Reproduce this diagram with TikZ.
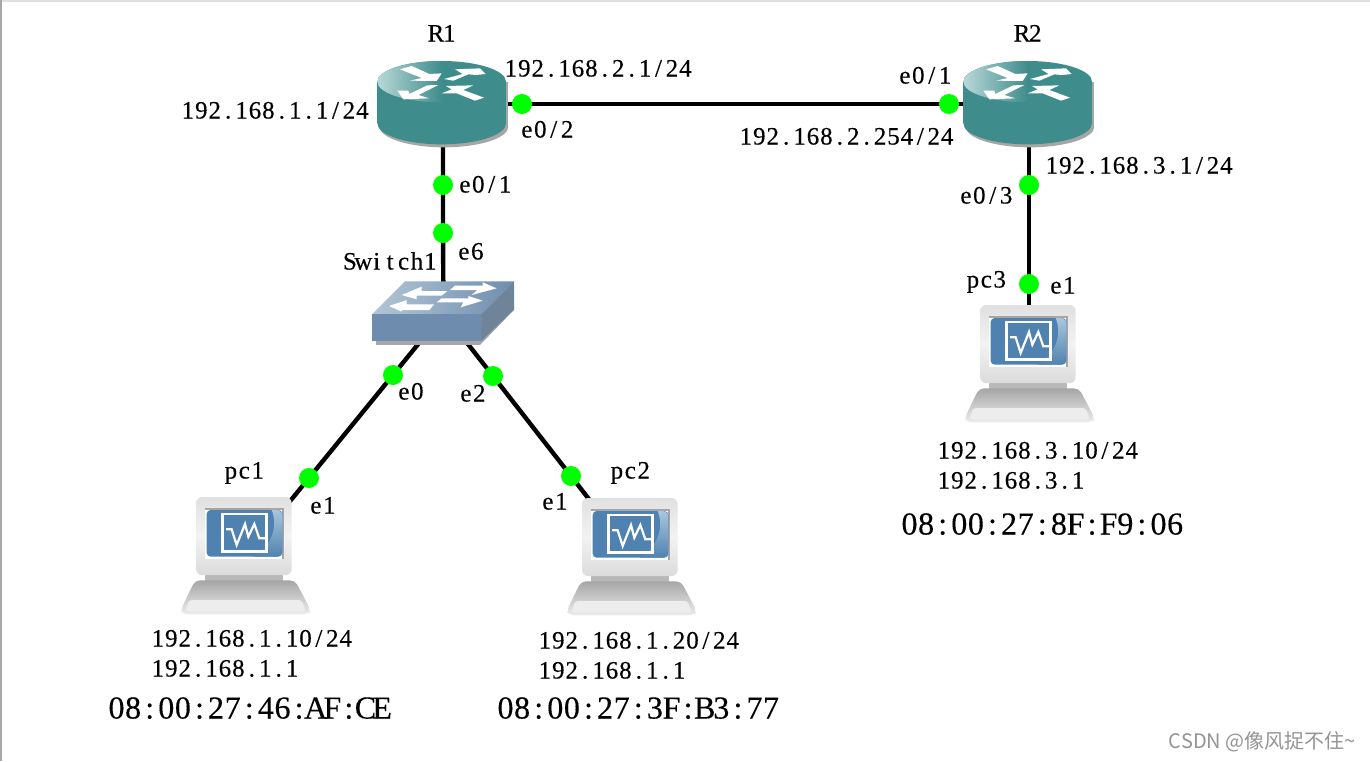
\documentclass[tikz,border=0pt]{standalone}
\usepackage{fontspec}
\setmainfont[FakeBold=0.25]{Liberation Serif}
\setsansfont{Liberation Sans}
\newfontfamily\cjkfont{Noto Sans CJK SC}
\usetikzlibrary{calc}
\pgfdeclarelayer{back}
\pgfsetlayers{back,main}
\makeatletter
\newcommand\fixedtxt[2]{\@tfor\mc:=#2\do{\hbox to #1{\hss\mc\hss}}}
\makeatother
\newcommand\mt[1]{\fixedtxt{13.42pt}{#1}}
\newcommand\bt[1]{\fixedtxt{16.6pt}{#1}}
\definecolor{rteal}{HTML}{3F8C8C}
\definecolor{rlight}{HTML}{B9D8D8}
\definecolor{swfront}{HTML}{6E8DAE}
\definecolor{swlight}{HTML}{B4C6D6}
\definecolor{swside}{HTML}{6F8499}
\definecolor{shad}{HTML}{A6A6A6}
\definecolor{scrblue}{HTML}{4F82B0}
\definecolor{scrlight}{HTML}{A9C6DE}
\tikzset{
  link/.style={draw=black,line width=4.4pt},
  portdot/.style={circle,fill=green,inner sep=0,minimum size=20pt},
  lab/.style={anchor=base west,inner sep=0,yshift=-8.5pt,font=\fontsize{25}{25}\selectfont},
  biglab/.style={anchor=base west,inner sep=0,yshift=-10.5pt,font=\fontsize{32}{32}\selectfont},
  whitearrow/.style={fill=white,draw=none},
  routericon/.pic={
    \begin{scope}[scale=1/3]
      \fill[shad] (120,215) rectangle (505,350);
      \fill[shad] (312,350) ellipse [x radius=193,y radius=62];
      \fill[rteal] (305,340) ellipse [x radius=193,y radius=63];
      \fill[rteal] (112,215) rectangle (498,340);
      \fill[rteal] (305,215) ellipse [x radius=193,y radius=62];
      \begin{scope}
        \clip (305,215) ellipse [x radius=193,y radius=62];
        \shade[left color=rlight,right color=rteal] (112,150) rectangle (305,280);
      \end{scope}
      \fill[whitearrow] (180,178)--(215,168)--(268,192)--(305,190)--(290,213)--(210,212)--(245,204)--cycle;
      \fill[whitearrow] (312,207)--(368,192)--(345,178)--(420,175)--(437,192)--(408,195)--(385,193)--(340,212)--cycle;
      \fill[whitearrow] (295,225)--(262,226)--(208,252)--(205,242)--(172,242)--(190,268)--(268,265)--(235,255)--cycle;
      \fill[whitearrow] (305,250)--(335,238)--(318,228)--(400,226)--(370,240)--(432,263)--(405,272)--(350,250)--cycle;
    \end{scope}
  },
  switchicon/.pic={
    \begin{scope}[scale=1/3]
      \fill[shad] (108,302) rectangle (420,315);
      \fill[shad] (420,315)--(522,210)--(522,200)--(420,300)--cycle;
      \shade[left color=swlight,right color=swfront] (195,124)--(522,124)--(425,222)--(97,222)--cycle;
      \fill[swfront] (97,222) rectangle (425,302);
      \fill[swside] (425,222)--(522,124)--(522,208)--(425,302)--cycle;
      \fill[whitearrow] (185,165)--(245,140)--(245,153)--(322,153)--(305,167)--(230,167)--(230,178)--cycle;
      \fill[whitearrow] (470,145)--(428,127)--(428,137)--(345,137)--(330,150)--(412,150)--(395,165)--cycle;
      \fill[whitearrow] (147,198)--(200,180)--(200,193)--(282,193)--(268,210)--(185,210)--(185,215)--cycle;
      \fill[whitearrow] (428,182)--(385,168)--(385,175)--(305,175)--(290,187)--(370,187)--(362,202)--cycle;
    \end{scope}
  },
  pcicon/.pic={
    \begin{scope}[scale=1/3]
      \fill[black!28] (195,370) rectangle (428,395);
      \shade[top color=black!35,bottom color=black!7,rounded corners=5pt]
        (165,391)--(465,391)--(512,480)--(505,493)--(128,493)--(122,480)--cycle;
      \fill[black!7,rounded corners=3pt] (147,450)--(485,450)--(497,484)--(136,484)--cycle;
      \shade[top color=black!12,bottom color=black!14,middle color=black!5,rounded corners=6pt]
        (168,141) rectangle (455,375);
      \fill[black!35] (195,175) rectangle (432,327);
      \fill[white] (195,180) rectangle (427,327);
      \fill[scrblue,rounded corners=4pt] (200,180) rectangle (427,320);
      \begin{scope}
        \clip[rounded corners=6pt] (200,180) rectangle (427,320);
        \shade[left color=scrblue,right color=scrlight,shading angle=0,bottom color=scrblue,top color=scrlight]
          (395,180) .. controls (415,230) and (395,290) .. (340,320) -- (427,320) -- (427,180) -- cycle;
      \end{scope}
      \draw[white,line width=2.4pt] (248,192) rectangle (380,305);
      \draw[white,line width=2.2pt,line join=miter]
        (258,238)--(275,238)--(290,285)--(315,222)--(325,260)--(343,222)--(358,265)--(380,265);
    \end{scope}
  }
}
\begin{document}
\begin{tikzpicture}[x=1pt,y=-1pt]
\useasboundingbox (0,0) rectangle (1370,761);
\begin{pgfonlayer}{back}
  \fill[white] (0,0) rectangle (1370,761);
  \fill[black!12] (0,0) rectangle (1370,1.5);
  \fill[black!35] (0,0) rectangle (2,761);
\end{pgfonlayer}

\coordinate (R1) at (443,104);
\coordinate (R2) at (1029,104);
\coordinate (SW) at (443.5,313);
\coordinate (PC1) at (246,555);
\coordinate (PC2) at (633,556);
\coordinate (PC3) at (1029,363);

\pic at (340,10) {routericon};
\pic at (926,10) {routericon};
\pic at (340,240) {switchicon};
\pic at (140,450) {pcicon};
\pic at (526,451) {pcicon};
\pic at (924,258) {pcicon};

\node[portdot] (p1) at (522,104) {};
\node[portdot] (p2) at (949,104) {};
\node[portdot] (p3) at (443,185) {};
\node[portdot] (p4) at (443,233) {};
\node[portdot] (p5) at (393,375) {};
\node[portdot] (p6) at (309,478) {};
\node[portdot] (p7) at (493,376) {};
\node[portdot] (p8) at (571,476) {};
\node[portdot] (p9) at (1029,185) {};
\node[portdot] (p10) at (1029,284) {};

\begin{pgfonlayer}{back}
  \draw[link] (R1.center)--(p1.center)--(p2.center)--(R2.center);
  \draw[link] (R1.center)--(p3.center)--(p4.center)--(SW.center);
  \draw[link] (SW.center)--(p5.center)--(p6.center)--(PC1.center);
  \draw[link] (SW.center)--(p7.center)--(p8.center)--(PC2.center);
  \draw[link] (R2.center)--(p9.center)--(p10.center)--(PC3.center);
\end{pgfonlayer}

\node[lab] (t1) at (429,33) {\mt{R1}};
\node[lab] (t2) at (1015,33) {\mt{R2}};
\node[lab] (t3) at (504,68) {\mt{192.168.2.1/24}};
\node[lab] (t4) at (181,110) {\mt{192.168.1.1/24}};
\node[lab] (t5) at (520,129) {\mt{e0/2}};
\node[lab] (t6) at (898,75) {\mt{e0/1}};
\node[lab] (t7) at (739,136) {\mt{192.168.2.254/24}};
\node[lab] (t8) at (1045,165) {\mt{192.168.3.1/24}};
\node[lab] (t9) at (959,195) {\mt{e0/3}};
\node[lab] (t10) at (458,184) {\mt{e0/1}};
\node[lab] (t11) at (457,251) {\mt{e6}};
\node[lab] (t12) at (343,261) {\mt{Switch1}};
\node[lab] (t13) at (966,279) {\mt{pc3}};
\node[lab] (t14) at (1049,285) {\mt{e1}};
\node[lab] (t15) at (397,391) {\mt{e0}};
\node[lab] (t16) at (459,393) {\mt{e2}};
\node[lab] (t17) at (224,470) {\mt{pc1}};
\node[lab] (t18) at (309,505) {\mt{e1}};
\node[lab] (t19) at (610,470) {\mt{pc2}};
\node[lab] (t20) at (541,501) {\mt{e1}};
\node[lab] (t21) at (151,638) {\mt{192.168.1.10/24}};
\node[lab] (t22) at (151,668) {\mt{192.168.1.1}};
\node[biglab] (t23) at (108,708) {\bt{08:00:27:46:AF:CE}};
\node[lab] (t24) at (538,640) {\mt{192.168.1.20/24}};
\node[lab] (t25) at (538,670) {\mt{192.168.1.1}};
\node[biglab] (t26) at (497,708) {\bt{08:00:27:3F:B3:77}};
\node[lab] (t27) at (937,450) {\mt{192.168.3.10/24}};
\node[lab] (t28) at (937,480) {\mt{192.168.3.1}};
\node[biglab] (t29) at (901,524) {\bt{08:00:27:8F:F9:06}};
\node[anchor=east,inner sep=0,text=black!42,font=\fontsize{20}{20}\selectfont\cjkfont] (wm) at (1356,742) {CSDN @像风捉不住\textasciitilde};
\end{tikzpicture}
\end{document}
